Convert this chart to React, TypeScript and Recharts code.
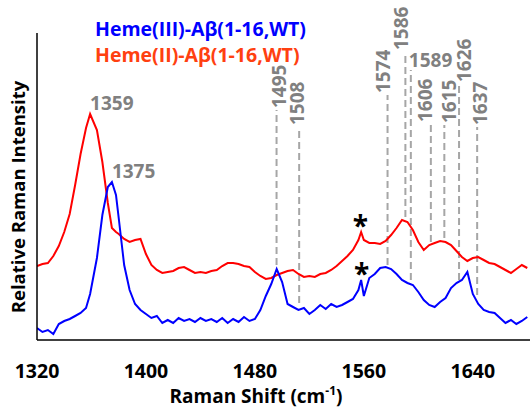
import React from 'react';
import { LineChart, Line, XAxis, YAxis, ReferenceLine, ReferenceDot, Label, Legend } from 'recharts';

// Raman shift (cm-1)
const shift = [
  1320, 1324, 1328, 1332, 1336, 1340, 1344, 1348, 1352, 1356, 1359, 1364, 1368, 1372, 1375, 1378,
  1380, 1384, 1388, 1392, 1396, 1400, 1404, 1408, 1412, 1416, 1420, 1424, 1428, 1432, 1436, 1440,
  1444, 1448, 1452, 1456, 1460, 1464, 1468, 1472, 1476, 1480, 1484, 1488, 1492, 1496, 1500, 1504,
  1508, 1512, 1516, 1520, 1524, 1528, 1532, 1536, 1540, 1544, 1548, 1552, 1556, 1558, 1560, 1564,
  1568, 1572, 1576, 1580, 1584, 1588, 1592, 1596, 1600, 1604, 1608, 1612, 1616, 1620, 1624, 1628,
  1632, 1636, 1640, 1644, 1648, 1652, 1656, 1660, 1664, 1668, 1672, 1676, 1680,
];

// Heme(II)-Abeta(1-16,WT) (red), relative intensity
const heme2 = [
  74, 76, 77, 84, 94, 108, 126, 155, 186, 212, 226, 210, 178, 137, 112, 108,
  106, 101, 98, 100, 101, 86, 75, 70, 67, 68, 69, 72, 73, 70, 67, 68,
  67, 69, 70, 74, 77, 77, 76, 74, 73, 68, 64, 61, 62, 65, 67, 69,
  70, 66, 63, 64, 63, 66, 67, 70, 74, 79, 84, 90, 100, 108, 100, 97,
  97, 96, 99, 105, 112, 120, 118, 110, 98, 90, 95, 97, 99, 98, 95, 89,
  83, 79, 82, 83, 80, 77, 76, 73, 70, 67, 71, 75, 72,
];

// Heme(III)-Abeta(1-16,WT) (blue), relative intensity
const heme3 = [
  12, 8, 10, 6, 16, 19, 21, 24, 27, 32, 46, 82, 125, 153, 158, 145,
  122, 75, 50, 36, 30, 26, 22, 24, 17, 20, 17, 22, 19, 21, 18, 22,
  19, 21, 18, 22, 17, 21, 18, 23, 19, 21, 30, 44, 56, 71, 58, 36,
  33, 30, 32, 26, 30, 35, 31, 36, 33, 35, 38, 41, 50, 60, 44, 62,
  66, 72, 73, 71, 66, 60, 57, 55, 48, 40, 35, 33, 38, 42, 52, 57,
  60, 68, 46, 36, 30, 28, 27, 22, 17, 20, 16, 19, 23,
];

const xTicks = [1320, 1400, 1480, 1560, 1640];

// main peak labels
const peakText = ['1359', '1375'];
const peakShift = [1359, 1375];
const peakHeight = [226, 158];

// dashed band markers
const markerText = ['1495', '1508', '1574', '1586', '1589', '1606', '1615', '1626', '1637'];
const markerShift = [1495.9, 1512.5, 1577.4, 1590.5, 1594.5, 1609.2, 1619.1, 1629.9, 1643.2];
const markerTop = [230, 213, 245, 288, 270, 216, 215, 256, 213];
const markerBottom = [75, 37, 75, 123, 60, 98, 102, 60, 45];

// asterisks
const starShift = [1557.4, 1558.3];
const starHeight = [119, 71];

// layout-only offsets for the marker labels (pixels)
const markerLabelDx = [2, -2, -5, -4.5, 0, -6, 4.5, 4.7, 2.7];
const markerHorizontal = [false, false, false, false, true, false, false, false, false];

const data = shift.map((s, i) => ({ shift: s, heme2: heme2[i], heme3: heme3[i] }));

const FONT = "'Open Sans', 'DejaVu Sans', sans-serif";
const GRAY = '#808080';
const DASH = '#a6a6a6';

const XTitle = () => (
  <text x={256} y={403} textAnchor="middle" fontFamily={FONT} fontWeight={700} fontSize={19} fill="#000">
    Raman Shift (cm
    <tspan fontSize={12} dy={-8}>-1</tspan>
    <tspan dy={8}>)</tspan>
  </text>
);

const YTitle = () => (
  <text
    x={25}
    y={197}
    transform="rotate(-90, 25, 197)"
    textAnchor="middle"
    fontFamily={FONT}
    fontWeight={700}
    fontSize={18.5}
    fill="#000"
  >
    Relative Raman Intensity
  </text>
);

const LegendBox = () => (
  <svg width={330} height={70} style={{ display: 'block' }}>
    <text x={95} y={36} fontFamily={FONT} fontWeight={700} fontSize={19.5} fill="#0000ff">
      Heme(III)-Aβ(1-16,WT)
    </text>
    <text x={95} y={62} fontFamily={FONT} fontWeight={700} fontSize={19.5} fill="#ff4010">
      Heme(II)-Aβ(1-16,WT)
    </text>
  </svg>
);

export default function App() {
  return (
    <div style={{ position: 'absolute', left: 0, top: 0, width: 530, height: 408, background: '#fff' }}>
      <LineChart width={530} height={408} data={data} margin={{ top: 33, right: 0, bottom: 0, left: 0 }}>
        <XAxis
          dataKey="shift"
          type="number"
          domain={[1320, 1682]}
          ticks={xTicks}
          allowDataOverflow
          tickLine={false}
          tickSize={6}
          tickMargin={18}
          height={68}
          axisLine={{ stroke: '#000', strokeWidth: 1.5 }}
          tick={{ fill: '#000', fontSize: 19.5, fontWeight: 700, fontFamily: FONT }}
        >
          <Label content={XTitle} />
        </XAxis>
        <YAxis
          type="number"
          domain={[0, 307]}
          allowDataOverflow
          tick={false}
          tickLine={false}
          width={37}
          axisLine={{ stroke: '#000', strokeWidth: 1.5 }}
        >
          <Label content={YTitle} />
        </YAxis>
        <Legend
          layout="horizontal"
          verticalAlign="middle"
          align="center"
          wrapperStyle={{ position: 'absolute', left: 0, top: 0, width: 330, height: 70 }}
          content={LegendBox}
        />
        {markerShift.map((s, i) => (
          <ReferenceLine
            key={`ml-${i}`}
            segment={[
              { x: s, y: markerBottom[i] },
              { x: s, y: markerTop[i] },
            ]}
            stroke={DASH}
            strokeWidth={2}
            strokeDasharray="7 4"
          />
        ))}
        <Line
          dataKey="heme2"
          stroke="#ff0000"
          strokeWidth={2}
          dot={false}
          isAnimationActive={false}
          type="linear"
        />
        <Line
          dataKey="heme3"
          stroke="#0000ff"
          strokeWidth={2}
          dot={false}
          isAnimationActive={false}
          type="linear"
        />
        {markerShift.map((s, i) => (
          <ReferenceDot
            key={`mt-${i}`}
            x={s}
            y={markerTop[i]}
            r={0}
            fill="none"
            stroke="none"
            label={(p: any) => {
              const cx = p.viewBox.x + (p.viewBox.width || 0) / 2;
              const cy = p.viewBox.y + (p.viewBox.height || 0) / 2;
              if (markerHorizontal[i]) {
                return (
                  <text x={cx - 2} y={cy - 3} fontFamily={FONT} fontWeight={700} fontSize={19} fill={GRAY}>
                    {markerText[i]}
                  </text>
                );
              }
              const tx = cx + markerLabelDx[i];
              const ty = cy - 2;
              return (
                <text
                  x={tx}
                  y={ty}
                  transform={`rotate(-90, ${tx}, ${ty})`}
                  textAnchor="start"
                  dominantBaseline="central"
                  fontFamily={FONT}
                  fontWeight={700}
                  fontSize={19}
                  fill={GRAY}
                >
                  {markerText[i]}
                </text>
              );
            }}
          />
        ))}
        {peakShift.map((s, i) => (
          <ReferenceDot
            key={`pk-${i}`}
            x={s}
            y={peakHeight[i]}
            r={0}
            fill="none"
            stroke="none"
            label={(p: any) => {
              const cx = p.viewBox.x + (p.viewBox.width || 0) / 2;
              const cy = p.viewBox.y + (p.viewBox.height || 0) / 2;
              return (
                <text x={cx} y={cy - 4} fontFamily={FONT} fontWeight={700} fontSize={19} fill={GRAY}>
                  {peakText[i]}
                </text>
              );
            }}
          />
        ))}
        {starShift.map((s, i) => (
          <ReferenceDot
            key={`st-${i}`}
            x={s}
            y={starHeight[i]}
            r={0}
            fill="none"
            stroke="none"
            label={(p: any) => {
              const cx = p.viewBox.x + (p.viewBox.width || 0) / 2;
              const cy = p.viewBox.y + (p.viewBox.height || 0) / 2;
              return (
                <text x={cx} y={cy + 15} textAnchor="middle" fontFamily={FONT} fontWeight={700} fontSize={28} fill="#000">
                  *
                </text>
              );
            }}
          />
        ))}
      </LineChart>
    </div>
  );
}
